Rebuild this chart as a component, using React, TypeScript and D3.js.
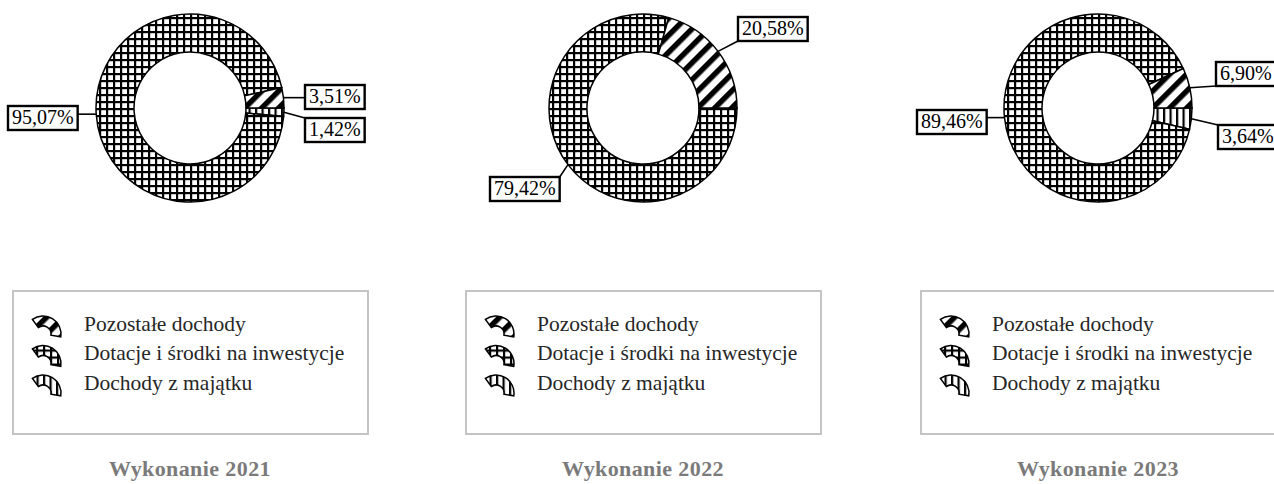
import React from "react";
import * as d3 from "d3";

// ---- data ----
const panelTitles = ["Wykonanie 2021", "Wykonanie 2022", "Wykonanie 2023"];
// drawing order (clockwise from 3 o'clock)
const categories = ["Dochody z majątku", "Dotacje i środki na inwestycje", "Pozostałe dochody"];
const values2021 = [1.42, 95.07, 3.51];
const values2022 = [0, 79.42, 20.58];
const values2023 = [3.64, 89.46, 6.9];
const legendOrder = ["Pozostałe dochody", "Dotacje i środki na inwestycje", "Dochody z majątku"];
const labelText2021 = ["1,42%", "95,07%", "3,51%"];
const labelText2022 = ["", "79,42%", "20,58%"];
const labelText2023 = ["3,64%", "89,46%", "6,90%"];

// ---- layout (not data) ----
const W = 1274, H = 484;
const centersX = [190, 643, 1098];
const CY = 108;
const R_OUT = 94, R_IN = 56;
const FONT = "'Liberation Serif','Times New Roman',serif";
const LABEL_FS = 20;
const LEGEND_FS = 21.5;
// label box top-left offsets relative to center, per panel per category
const labelOffsets = [
  [[115, 10], [-182, -2], [115, -23]],
  [[0, 0], [-153, 69], [95, -91]],
  [[120, 17], [-181, 2], [118, -46]],
];
const patternIds = ["pVert", "pGrid", "pDiag"];

const charW: Record<string, number> = { ",": 0.25, "%": 0.833 };
const textWidth = (s: string, fs: number) =>
  s.split("").reduce((a, c) => a + (charW[c] ?? 0.5), 0) * fs;

const pie = d3
  .pie<number>()
  .sort(null)
  .value((d) => d)
  .startAngle(Math.PI / 2)
  .endAngle(Math.PI / 2 + 2 * Math.PI);

const arc = d3.arc<d3.PieArcDatum<number>>().innerRadius(R_IN).outerRadius(R_OUT);

const iconArc = d3
  .arc<any>()
  .innerRadius(8)
  .outerRadius(18)
  .startAngle(-Math.PI * 0.2)
  .endAngle(Math.PI * 0.55);

function Panel({ idx, values, labels }: { idx: number; values: number[]; labels: string[] }) {
  const cx = centersX[idx];
  const arcs = pie(values);
  const legX = cx - 177;
  const legW = 355;
  return (
    <g>
      <g transform={`translate(${cx},${CY})`}>
        {arcs.map((a, i) =>
          a.value > 0 ? (
            <path
              key={i}
              d={arc(a) || ""}
              fill={`url(#${patternIds[i]})`}
              stroke="#000"
              strokeWidth={1.5}
            />
          ) : null
        )}
        {arcs.map((a, i) => {
          if (!labels[i]) return null;
          const mid = (a.startAngle + a.endAngle) / 2;
          const sx = Math.sin(mid) * R_OUT;
          const sy = -Math.cos(mid) * R_OUT;
          const [ox, oy] = labelOffsets[idx][i];
          const bw = textWidth(labels[i], LABEL_FS) + 8;
          const bh = 24;
          const ex = Math.max(ox, Math.min(ox + bw, sx));
          const ey = Math.max(oy, Math.min(oy + bh, sy));
          return (
            <g key={"l" + i}>
              <line x1={sx} y1={sy} x2={ex} y2={ey} stroke="#000" strokeWidth={1.6} />
              <rect x={ox} y={oy} width={bw} height={bh} fill="#fff" stroke="#000" strokeWidth={2.4} />
              <text
                x={ox + 4}
                y={oy + bh / 2 + 1}
                dominantBaseline="middle"
                fontFamily={FONT}
                fontSize={LABEL_FS}
                fill="#000"
              >
                {labels[i]}
              </text>
            </g>
          );
        })}
      </g>
      <rect x={legX} y={291} width={legW} height={143} fill="#fff" stroke="#c4c4c4" strokeWidth={2} />
      {legendOrder.map((name, j) => {
        const ci = categories.indexOf(name);
        const y = 326 + j * 29.5;
        return (
          <g key={name}>
            <path
              d={iconArc({}) || ""}
              transform={`translate(${legX + 30},${y + 8})`}
              fill={`url(#${patternIds[ci]})`}
              stroke="#000"
              strokeWidth={1.5}
            />
            <text
              x={legX + 71}
              y={y}
              dominantBaseline="middle"
              fontFamily={FONT}
              fontSize={LEGEND_FS}
              fill="#262626"
            >
              {name}
            </text>
          </g>
        );
      })}
      <text
        x={cx}
        y={476}
        textAnchor="middle"
        fontFamily={FONT}
        fontSize={22}
        fontWeight="bold"
        fill="#7a7a7a"
        letterSpacing={0.4}
      >
        {panelTitles[idx]}
      </text>
    </g>
  );
}

export default function App() {
  const allValues = [values2021, values2022, values2023];
  const allLabels = [labelText2021, labelText2022, labelText2023];
  return (
    <svg width={W} height={H} style={{ position: "absolute", left: 0, top: 0, background: "#fff" }}>
      <defs>
        <pattern id="pGrid" width={7} height={7} patternUnits="userSpaceOnUse">
          <rect width={7} height={7} fill="#fff" />
          <rect x={0} y={0} width={7} height={2.2} fill="#000" />
          <rect x={0} y={0} width={2.2} height={7} fill="#000" />
        </pattern>
        <pattern id="pDiag" width={12} height={12} patternUnits="userSpaceOnUse" patternTransform="rotate(45)">
          <rect width={12} height={12} fill="#fff" />
          <rect x={0} y={0} width={5.5} height={12} fill="#000" />
        </pattern>
        <pattern id="pVert" width={6.5} height={6.5} patternUnits="userSpaceOnUse">
          <rect width={6.5} height={6.5} fill="#fff" />
          <rect x={0} y={0} width={2.2} height={6.5} fill="#000" />
        </pattern>
      </defs>
      <rect width={W} height={H} fill="#fff" />
      {allValues.map((v, i) => (
        <Panel key={i} idx={i} values={v} labels={allLabels[i]} />
      ))}
    </svg>
  );
}
